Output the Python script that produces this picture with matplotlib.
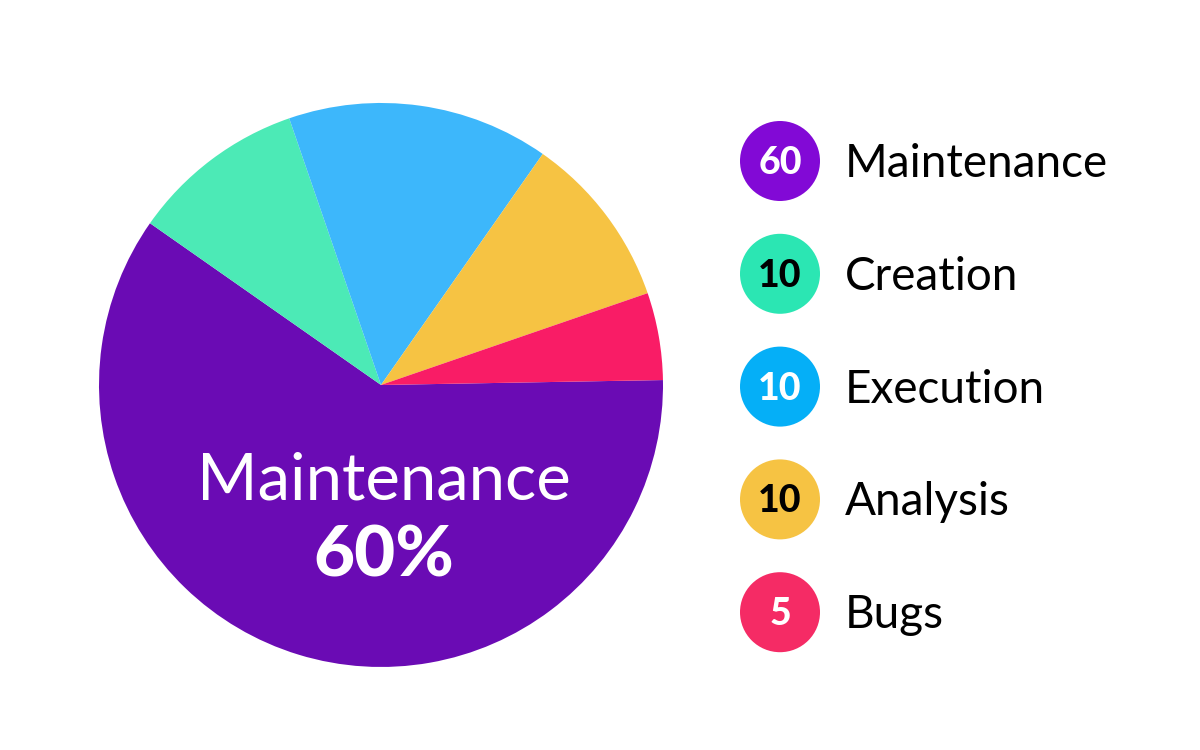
import matplotlib
matplotlib.use('Agg')
import matplotlib.pyplot as plt
from matplotlib.patches import Circle

plt.rcParams['font.family'] = ['Lato', 'DejaVu Sans']

# datos de las porciones
categories = ['Maintenance', 'Creation', 'Execution', 'Analysis', 'Bugs']
slice_values = [60, 10, 15, 10, 5]
legend_values = ['60', '10', '10', '10', '5']
slice_colors = ['#6A0BB4', '#4CEAB6', '#3DB7FB', '#F6C343', '#F91C66']
legend_colors = ['#8209D6', '#2BE6B3', '#05AFF7', '#F6C343', '#F52B65']
number_colors = ['white', 'black', 'white', 'black', 'white']

fig = plt.figure(figsize=(12, 7.5), dpi=100)

# pie
ax = fig.add_axes([0.0825, 0.1107, 0.47, 0.752])
ax.pie(slice_values, colors=slice_colors, startangle=1, counterclock=False,
       radius=1.0, wedgeprops=dict(linewidth=0))
ax.set_xlim(-1, 1)
ax.set_ylim(-1, 1)
ax.set_aspect('equal')
ax.axis('off')

ax.text(0.01, -0.34, categories[0], ha='center', va='center',
        fontsize=47, color='white')
ax.text(0.01, -0.605, f'{slice_values[0]}%', ha='center', va='center',
        fontsize=51, color='white', fontweight=900)

# leyenda en coordenadas de pixel
lax = fig.add_axes([0, 0, 1, 1])
lax.set_xlim(0, 1200)
lax.set_ylim(750, 0)
lax.axis('off')

y0, dy = 161, 112.8
for i, (cat, num) in enumerate(zip(categories, legend_values)):
    y = y0 + i * dy
    lax.add_patch(Circle((780, y), 40, color=legend_colors[i], linewidth=0))
    lax.text(780, y + 2, num, ha='center', va='center', fontsize=27,
             fontweight=900, color=number_colors[i])
    lax.text(845, y + 3, cat, ha='left', va='center', fontsize=33, color='black')

plt.savefig('out.png', dpi=100, facecolor='white')
